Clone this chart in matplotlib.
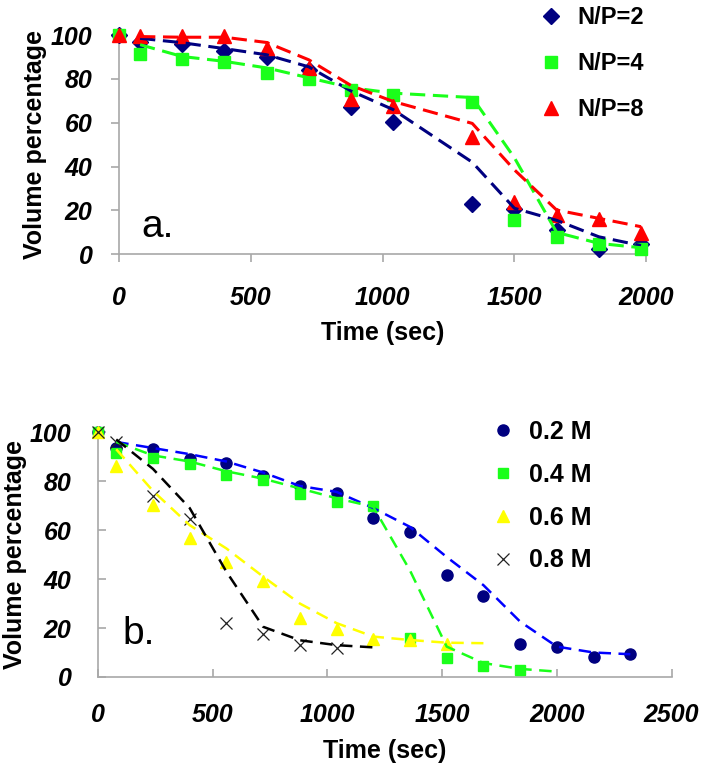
import matplotlib
matplotlib.use("Agg")
import matplotlib.pyplot as plt

plt.rcParams['font.family'] = ['Liberation Sans', 'DejaVu Sans']

# ---- panel a data ----
time_a = [0, 80, 240, 400, 560, 720, 880, 1040, 1340, 1500, 1660, 1820, 1980]
np2 = [100, 97, 96, 92.5, 90, 84, 67, 60.5, 23, 20.5, 11, 2.5, 4.5]
np4 = [100, 91.5, 89, 87.5, 82.5, 80, 75, 72.5, 69.5, 15.5, 8, 4.5, 2.5]
np8 = [100, 99.5, 99.5, 99.5, 94, 85, 71, 67.5, 53.5, 24, 18, 16, 9.5]
# dashed trend lines (start at t=80)
fit2 = [98.5, 96.5, 93.8, 91, 85.5, 74.5, 66, 42, 21, 15.5, 8, 4]
fit4 = [95.6, 90.2, 88, 85, 80.5, 76, 73.5, 71.5, 44, 10, 5, 3]
fit8 = [99.3, 99, 99, 96.6, 88.7, 77, 69.7, 59.7, 38.5, 20.2, 16.4, 12.6]
labels_a = ['N/P=2', 'N/P=4', 'N/P=8']

# ---- panel b data ----
time_b = [0, 80, 240, 400, 560, 720, 880, 1040, 1200, 1360, 1520, 1680, 1840, 2000, 2160, 2320]
m02 = [100, 93.7, 93.2, 89, 87.3, 82, 78, 75, 64.8, 59.3, 41.7, 33.2, 13.4, 12.4, 8.3, 9.3]
m04 = [100, 91.3, 89.4, 86.9, 82.3, 80.5, 74.8, 71.4, 70, 15.8, 7.9, 4.5, 2.9]
m06 = [100, 86, 70.3, 56.6, 47, 39.3, 23.9, 19.8, 15.4, 15.2, 13.4]
m08 = [100, 96, 73.8, 64.5, 22, 17.7, 13.1, 12]
fit02 = [96, 93.5, 91, 88, 83.5, 78, 75.6, 69, 61.3, 49, 37.5, 22.6, 12.4, 10, 9.3]
fit04 = [96, 90.5, 88, 84, 81, 77, 73, 69.5, 43.5, 12.4, 5.7, 3.3, 2.2]
fit06 = [93, 76, 62, 52.5, 41, 30, 22, 16.5, 15.1, 14, 13.8]
fit08 = [97, 85, 69, 43, 20.5, 15, 13, 12.1]
labels_b = ['0.2 M', '0.4 M', '0.6 M', '0.8 M']

NAVY = '#000080'
GREEN = '#1aff1a'
RED = '#ff0000'
YELLOW = '#ffff00'
SPINE = '#a8a8a8'

fig = plt.figure(figsize=(7.04, 7.7), dpi=100)
ax_a = fig.add_axes([0.169, 0.6697, 0.749, 0.2848])
ax_b = fig.add_axes([0.139, 0.1208, 0.815, 0.318])


def style_axes(ax, xmax, direction, xpad, ypad):
    for s in ['top', 'right']:
        ax.spines[s].set_visible(False)
    for s in ['left', 'bottom']:
        ax.spines[s].set_color(SPINE)
        ax.spines[s].set_linewidth(1.2)
    ax.set_xlim(0, xmax)
    ax.set_ylim(0, 100)
    ax.set_yticks(range(0, 101, 20))
    ax.set_xticks(range(0, xmax + 1, 500))
    ax.tick_params(axis='both', direction=direction, length=6, width=1.2, color=SPINE)
    ax.tick_params(axis='x', pad=xpad)
    ax.tick_params(axis='y', pad=ypad)
    for lab in ax.get_xticklabels() + ax.get_yticklabels():
        lab.set_fontsize(18)
        lab.set_fontweight('bold')
        lab.set_fontstyle('italic')


# ---- panel a ----
ma = dict(linestyle='none', clip_on=False, zorder=3)
ax_a.plot(time_a, np2, marker='D', markersize=8, color=NAVY, label=labels_a[0], **ma)
ax_a.plot(time_a, np4, marker='s', markersize=9, color=GREEN, label=labels_a[1], **ma)
ax_a.plot(time_a, np8, marker='^', markersize=10, color=RED, label=labels_a[2], **ma)
la = dict(linestyle=(0, (5, 2.5)), linewidth=2.2, zorder=4)
ax_a.plot(time_a[1:], fit2, color=NAVY, **la)
ax_a.plot(time_a[1:], fit4, color=GREEN, **la)
ax_a.plot(time_a[1:], fit8, color=RED, **la)
style_axes(ax_a, 2000, 'out', 17, 13)
ax_a.text(86, 8, 'a.', fontsize=28)
ax_a.set_xlabel('Time (sec)', fontsize=18, fontweight='bold', va='top')
ax_a.xaxis.set_label_coords(0.5, -0.305)
ax_a.set_ylabel('Volume percentage', fontsize=18, fontweight='bold')
ax_a.yaxis.set_label_coords(-0.137, 0.5)
ax_a.legend(loc='upper left', bbox_to_anchor=(0.766, 0.992), bbox_transform=fig.transFigure,
            frameon=False, prop=dict(size=17, weight='bold'), handlelength=1.0,
            handletextpad=0.6, labelspacing=0.98, borderpad=0, borderaxespad=0)

# ---- panel b ----
ax_b.plot(time_b, m02, marker='o', markersize=8, color=NAVY, label=labels_b[0], **ma)
ax_b.plot(time_b[:len(m04)], m04, marker='s', markersize=7, color=GREEN, label=labels_b[1], **ma)
ax_b.plot(time_b[:len(m06)], m06, marker='^', markersize=8, color=YELLOW, label=labels_b[2], **ma)
ax_b.plot(time_b[:len(m08)], m08, marker='x', markersize=8, markeredgewidth=0.9,
          color='#222222', label=labels_b[3], **ma)
lb = dict(linestyle=(0, (5, 3)), linewidth=1.8, zorder=4)
ax_b.plot(time_b[1:1 + len(fit02)], fit02, color='#0000ff', **lb)
ax_b.plot(time_b[1:1 + len(fit04)], fit04, color=GREEN, **lb)
ax_b.plot(time_b[1:1 + len(fit06)], fit06, color=YELLOW, **lb)
ax_b.plot(time_b[1:1 + len(fit08)], fit08, color='black', **lb)
style_axes(ax_b, 2500, 'in', 19, 19)
ax_b.text(108, 13.5, 'b.', fontsize=28)
ax_b.set_xlabel('Time (sec)', fontsize=18, fontweight='bold', va='top')
ax_b.xaxis.set_label_coords(0.5, -0.255)
ax_b.set_ylabel('Volume percentage', fontsize=18, fontweight='bold')
ax_b.yaxis.set_label_coords(-0.124, 0.5)
ax_b.legend(loc='upper left', bbox_to_anchor=(0.697, 0.4545), bbox_transform=fig.transFigure,
            frameon=False, prop=dict(size=18, weight='bold'), handlelength=1.0,
            handletextpad=0.55, labelspacing=0.75, borderpad=0, borderaxespad=0)

fig.savefig('out.png', dpi=100)
